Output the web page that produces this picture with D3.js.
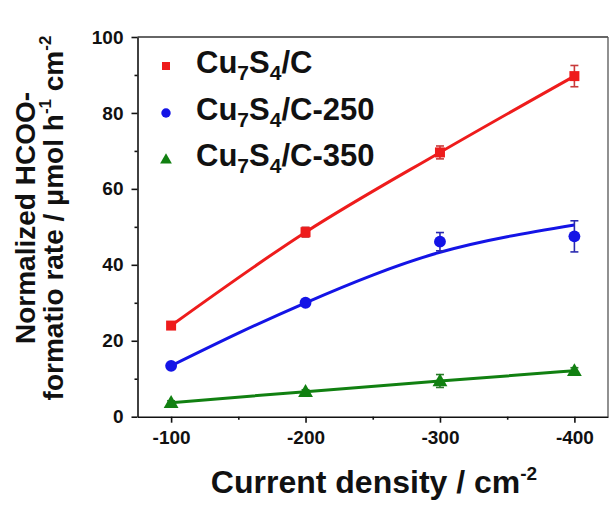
<!DOCTYPE html>
<html>
<head>
<meta charset="utf-8">
<script src="https://cdn.jsdelivr.net/npm/d3@7/dist/d3.min.js"></script>
<style>
  html, body { margin: 0; padding: 0; background: #fff; }
  svg { display: block; }
  text { font-family: "Liberation Sans", Arial, sans-serif; font-weight: bold; fill: #111; }
</style>
</head>
<body>
<svg id="chart" width="609" height="505"></svg>
<script>
// Current density set-points (x) and formate production rates per catalyst
const currents = [-100, -200, -300, -400];
const rateC = [24.0, 48.6, 69.6, 89.7];
const errC = [0.8, 1.3, 1.7, 2.8];
const rate250 = [13.4, 30.0, 46.1, 47.5];
const err250 = [0.6, 0.7, 2.4, 4.1];
const rate350 = [3.7, 6.6, 9.4, 12.1];
const err350 = [0.5, 0.5, 1.7, 0.8];

// Smoothed trend for the C-250 sample
const fitX250 = [-100, -150, -200, -250, -300, -350, -400];
const fit250 = [13.4, 22.0, 30.0, 37.3, 43.3, 47.4, 50.5];

const xMajor = [-100, -200, -300, -400];
const xMinor = [-150, -250, -350];
const yMajor = [0, 20, 40, 60, 80, 100];
const yMinor = [10, 30, 50, 70, 90];

const series = [
  { name: "C", suffix: "", values: rateC, errors: errC, color: "#ee1c1c", errColor: "#c83a3a", symbol: d3.symbolSquare, size: 100, legendSize: 64 },
  { name: "C", suffix: "-250", values: rate250, errors: err250, color: "#1414e6", errColor: "#2a2ab0", symbol: d3.symbolCircle, size: 110, legendSize: 70 },
  { name: "C", suffix: "-350", values: rate350, errors: err350, color: "#118011", errColor: "#2a7a2a", symbol: d3.symbolTriangle, size: 95, legendSize: 60 }
];

const svg = d3.select("#chart");
const plotLeft = 137.5, plotRight = 608, plotTop = 37, plotBottom = 416.7;

const x = d3.scaleLinear().domain([-75, -425]).range([plotLeft, plotRight]);
const y = d3.scaleLinear().domain([0, 100]).range([plotBottom, plotTop]);

// Frame (top and right)
svg.append("line").attr("x1", plotLeft).attr("x2", plotRight).attr("y1", plotTop).attr("y2", plotTop)
  .attr("stroke", "#333").attr("stroke-width", 1.3);
svg.append("line").attr("x1", plotRight).attr("x2", plotRight).attr("y1", plotTop).attr("y2", plotBottom)
  .attr("stroke", "#555").attr("stroke-width", 1.3);

function styleAxis(g) {
  g.select(".domain").attr("stroke", "#111").attr("stroke-width", 1.6);
  g.selectAll(".tick line").attr("stroke", "#111").attr("stroke-width", 1.6);
  g.selectAll(".tick text").style("font-size", "19px").attr("fill", "#111");
}

// Y axis
const yAxis = svg.append("g").attr("transform", `translate(${plotLeft},0)`)
  .call(d3.axisLeft(y).tickValues(yMajor).tickSize(6).tickPadding(8).tickSizeOuter(0));
styleAxis(yAxis);
const yAxisMinor = svg.append("g").attr("transform", `translate(${plotLeft},0)`)
  .call(d3.axisLeft(y).tickValues(yMinor).tickSize(3).tickFormat("").tickSizeOuter(0));
styleAxis(yAxisMinor);
yAxisMinor.select(".domain").remove();

// X axis
const xAxis = svg.append("g").attr("transform", `translate(0,${plotBottom})`)
  .call(d3.axisBottom(x).tickValues(xMajor).tickSize(6).tickPadding(8).tickSizeOuter(0)
    .tickFormat(d => "-" + Math.abs(d)));
styleAxis(xAxis);
const xAxisMinor = svg.append("g").attr("transform", `translate(0,${plotBottom})`)
  .call(d3.axisBottom(x).tickValues(xMinor).tickSize(3).tickFormat("").tickSizeOuter(0));
styleAxis(xAxisMinor);
xAxisMinor.select(".domain").remove();

// Lines
const lineGen = d3.line().x(d => x(d[0])).y(d => y(d[1])).curve(d3.curveMonotoneX);
const smoothGen = d3.line().x(d => x(d[0])).y(d => y(d[1])).curve(d3.curveNatural);

svg.append("path").datum(currents.map((c, i) => [c, rateC[i]]))
  .attr("d", lineGen).attr("fill", "none").attr("stroke", series[0].color).attr("stroke-width", 3);
svg.append("path").datum(fitX250.map((c, i) => [c, fit250[i]]))
  .attr("d", smoothGen).attr("fill", "none").attr("stroke", series[1].color).attr("stroke-width", 3);
svg.append("path").datum(currents.map((c, i) => [c, rate350[i]]))
  .attr("d", lineGen).attr("fill", "none").attr("stroke", series[2].color).attr("stroke-width", 3);

// Error bars and markers
series.forEach(s => {
  const g = svg.append("g");
  currents.forEach((c, i) => {
    const cx = x(c), v = s.values[i], e = s.errors[i];
    const y1 = y(v + e), y2 = y(v - e);
    g.append("line").attr("x1", cx).attr("x2", cx).attr("y1", y1).attr("y2", y2)
      .attr("stroke", s.errColor).attr("stroke-width", 1.6);
    [y1, y2].forEach(yy => g.append("line").attr("x1", cx - 4).attr("x2", cx + 4)
      .attr("y1", yy).attr("y2", yy).attr("stroke", s.errColor).attr("stroke-width", 1.6));
  });
  g.selectAll("path.marker").data(currents.map((c, i) => [c, s.values[i]])).join("path")
    .attr("class", "marker")
    .attr("transform", d => `translate(${x(d[0])},${y(d[1]) + (s.symbol === d3.symbolTriangle ? 1 : 0)})`)
    .attr("d", d3.symbol().type(s.symbol).size(s.size))
    .attr("fill", s.color);
});

// Legend
const legendRows = [73, 120, 166];
series.forEach((s, i) => {
  const by = legendRows[i];
  svg.append("path")
    .attr("transform", `translate(166,${by - 7 + (s.symbol === d3.symbolTriangle ? 1 : 0)})`)
    .attr("d", d3.symbol().type(s.symbol).size(s.legendSize))
    .attr("fill", s.color);
  const t = svg.append("text").attr("x", 196).attr("y", by).style("font-size", "31px");
  t.append("tspan").text("Cu");
  t.append("tspan").text("7").style("font-size", "21px").attr("dy", 7);
  t.append("tspan").text("S").attr("dy", -7);
  t.append("tspan").text("4").style("font-size", "21px").attr("dy", 7);
  t.append("tspan").text("/" + s.name + s.suffix).attr("dy", -7);
});

// Axis titles
const xt = svg.append("text").attr("x", 374).attr("y", 493).attr("text-anchor", "middle")
  .style("font-size", "32px");
xt.append("tspan").text("Current density / cm");
xt.append("tspan").text("-2").style("font-size", "19px").attr("dy", -13);

const yt = svg.append("g").attr("transform", "translate(0,218) rotate(-90)");
yt.append("text").attr("x", 0).attr("y", 35).attr("text-anchor", "middle")
  .style("font-size", "28px").text("Normalized HCOO-");
const yt2 = yt.append("text").attr("x", 0).attr("y", 63).attr("text-anchor", "middle")
  .style("font-size", "28px");
yt2.append("tspan").text("formatio rate / μmol h");
yt2.append("tspan").text("-1").style("font-size", "17px").attr("dy", -12);
yt2.append("tspan").text(" cm").attr("dy", 12);
yt2.append("tspan").text("-2").style("font-size", "17px").attr("dy", -12);
</script>
</body>
</html>
